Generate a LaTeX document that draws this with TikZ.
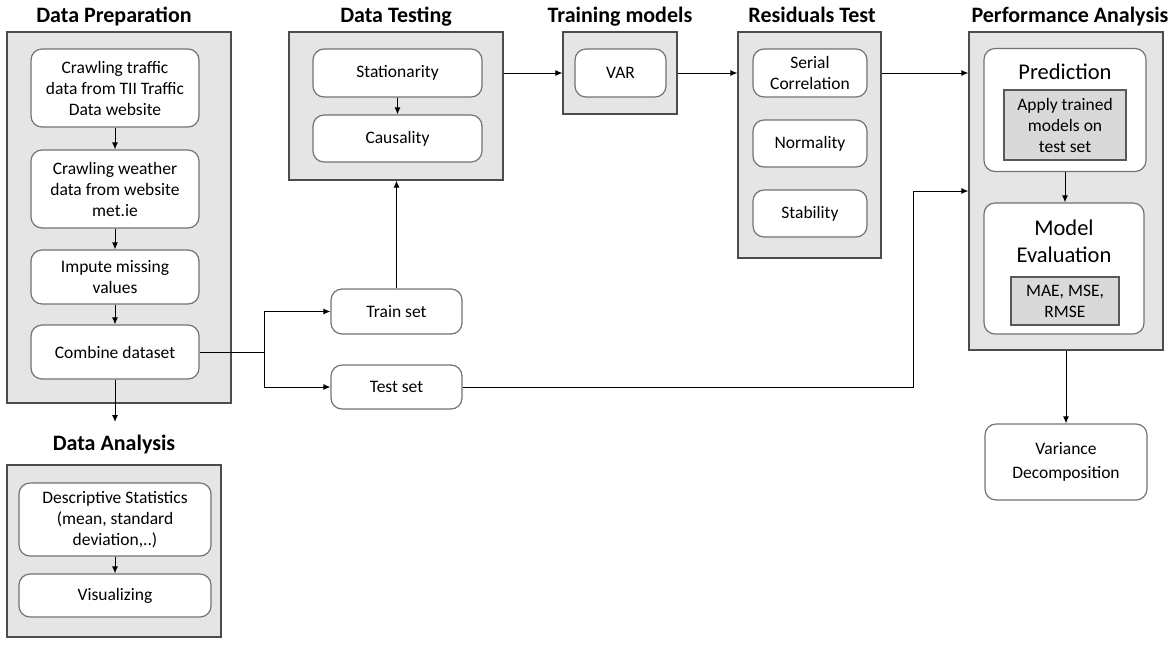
\documentclass[tikz,border=0pt]{standalone}
\usepackage{fontspec}
\setmainfont{Carlito}
\usepackage{tikz}
\usetikzlibrary{arrows.meta}
\usetikzlibrary{positioning}

\begin{document}
\begin{tikzpicture}[x=1pt, y=-1pt, line width=1pt, >={Latex[length=7pt,width=6pt]},
  wh/.style 2 args={minimum width=#1, minimum height=#2},
  panel/.style={draw=black!70, fill=black!10, line width=1.2pt, inner sep=0pt},
  stepbox/.style={draw=black!55, fill=white, rounded corners=11pt, line width=1.2pt, align=center, inner sep=0pt, font=\fontsize{17.5}{21}\selectfont},
  greybox/.style={draw=black!65, fill=black!15, line width=1.2pt, align=center, inner sep=0pt, font=\fontsize{17.5}{21}\selectfont},
  heading/.style={font=\fontsize{22}{26}\selectfont\bfseries, anchor=base, inner sep=0pt},
  bigtext/.style={font=\fontsize{22.5}{27}\selectfont, align=center, inner sep=0pt}]

\useasboundingbox (0,0) rectangle (1174,649);

% data preparation
\node[heading] (preptitle) at (114,22) {Data Preparation};
\node[panel, wh={224}{371}] (prep) at (119,217.5) {};
\node[stepbox, wh={168}{78}] (crawltraffic) at (115,88) {Crawling traffic\\data from TII Traffic\\Data website};
\node[stepbox, wh={168}{78}] (crawlweather) at (115,189) {Crawling weather\\data from website\\met.ie};
\node[stepbox, wh={168}{54}] (impute) at (115,277) {Impute missing\\values};
\node[stepbox, wh={168}{54}] (combine) at (115,352) {Combine dataset};
\coordinate (tocharts) at (115,422);

% data analysis
\node[heading] (anatitle) at (114,450) {Data Analysis};
\node[panel, wh={214}{172}] (analysis) at (114,551) {};
\node[stepbox, wh={192}{73}] (descstats) at (115,519.5) {Descriptive Statistics\\(mean, standard\\deviation,..)};
\node[stepbox, wh={192}{43}] (visual) at (115,595.5) {Visualizing};

% data testing
\node[heading] (testtitle) at (396,22) {Data Testing};
\node[panel, wh={214}{148}] (testing) at (396,106) {};
\node[stepbox, wh={169}{48}] (station) at (397.5,73) {Stationarity};
\node[stepbox, wh={169}{47}] (causal) at (397.5,138.5) {Causality};
\node[stepbox, wh={131}{45}] (trainset) at (396.5,311.5) {Train set};
\node[stepbox, wh={131}{44}] (testset) at (396.5,387) {Test set};
\coordinate (fork) at (264,352);

% training models
\node[heading] (traintitle) at (620,22) {Training models};
\node[panel, wh={114}{82}] (training) at (620,73) {};
\node[stepbox, wh={91}{48}] (var) at (620.5,73) {VAR};

% residuals test
\node[heading] (residtitle) at (812,22) {Residuals Test};
\node[panel, wh={143}{226}] (resid) at (809.5,145) {};
\node[stepbox, wh={114}{48}] (serial) at (810,73) {Serial\\Correlation};
\node[stepbox, wh={114}{47}] (normal) at (810,143.5) {Normality};
\node[stepbox, wh={114}{47}] (stable) at (810,213.5) {Stability};

% performance analysis
\node[heading] (perftitle) at (1070,22) {Performance Analysis};
\node[panel, wh={194}{318}] (perf) at (1066,191) {};
\node[stepbox, wh={162}{123}] (predict) at (1065,110) {};
\node[bigtext] (predtitle) at (1065,72) {Prediction};
\node[greybox, wh={122}{70}] (apply) at (1065,125) {Apply trained\\models on\\test set};
\node[stepbox, wh={160}{131}] (modeleval) at (1064,268.5) {};
\node[bigtext] (evaltitle) at (1064,241) {Model\\Evaluation};
\node[greybox, wh={108}{48}] (metrics) at (1065,301) {MAE, MSE,\\RMSE};
\node[stepbox, wh={162}{76}, font=\fontsize{17.5}{24}\selectfont] (variance) at (1066,462) {Variance\\Decomposition};
\coordinate (turn) at (913,191);

% connectors
\draw[->] (crawltraffic) -- (crawlweather);
\draw[->] (crawlweather) -- (impute);
\draw[->] (impute) -- (combine);
\draw[->] (combine) -- (tocharts);
\draw[->] (descstats) -- (visual);
\draw (combine.east) -- (fork);
\draw[->] (fork) |- (trainset.west);
\draw[->] (fork) |- (testset.west);
\draw[->] (trainset.north) -- (trainset.north |- testing.south);
\draw[->] (station) -- (causal);
\draw[->] (testing.east |- training) -- (training);
\draw[->] (training.east) -- (training.east -| resid.west);
\draw[->] (resid.east |- serial) -- (perf.west |- serial);
\draw[->] (testset) -| (turn) -- (turn -| perf.west);
\draw[->] (predict.south) -- (predict.south |- modeleval.north);
\draw[->] (perf.south -| variance) -- (variance);
\end{tikzpicture}
\end{document}
